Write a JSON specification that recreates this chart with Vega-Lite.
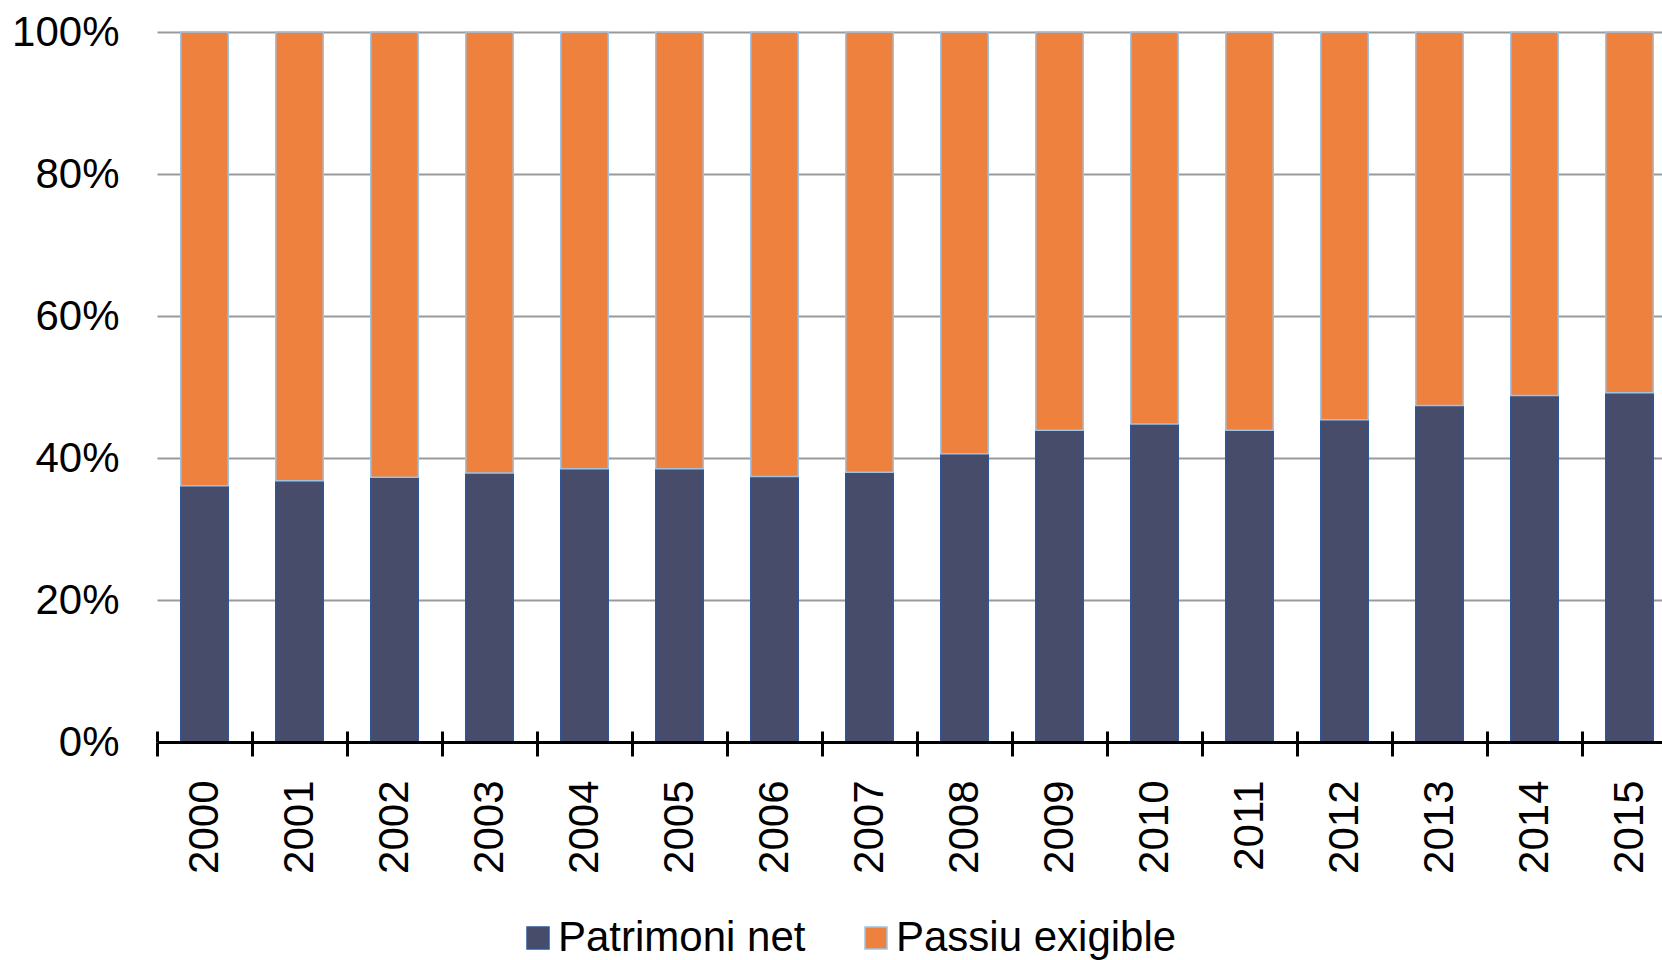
{
  "$schema": "https://vega.github.io/schema/vega-lite/v6.json",
  "autosize": {"type": "none"},
  "padding": {"left": 157, "top": 32, "right": 0, "bottom": 218},
  "width": 1505,
  "height": 710,
  "background": "white",
  "config": {
    "view": {"stroke": null},
    "font": "Liberation Sans"
  },
  "data": {
    "values": [
      {"year": "2000", "pn": 0.361, "pe": 0.639},
      {"year": "2001", "pn": 0.368, "pe": 0.632},
      {"year": "2002", "pn": 0.373, "pe": 0.627},
      {"year": "2003", "pn": 0.379, "pe": 0.621},
      {"year": "2004", "pn": 0.385, "pe": 0.615},
      {"year": "2005", "pn": 0.385, "pe": 0.615},
      {"year": "2006", "pn": 0.374, "pe": 0.626},
      {"year": "2007", "pn": 0.380, "pe": 0.620},
      {"year": "2008", "pn": 0.406, "pe": 0.594},
      {"year": "2009", "pn": 0.439, "pe": 0.561},
      {"year": "2010", "pn": 0.448, "pe": 0.552},
      {"year": "2011", "pn": 0.439, "pe": 0.561},
      {"year": "2012", "pn": 0.454, "pe": 0.546},
      {"year": "2013", "pn": 0.474, "pe": 0.526},
      {"year": "2014", "pn": 0.488, "pe": 0.512},
      {"year": "2015", "pn": 0.492, "pe": 0.508}
    ]
  },
  "resolve": {"axis": {"x": "independent"}},
  "layer": [
    {
      "mark": {"type": "bar", "strokeWidth": 1.5},
      "encoding": {
        "x": {
          "field": "year",
          "type": "ordinal",
          "scale": {"range": [0, 1520], "paddingInner": 0.5, "paddingOuter": 0.25},
          "axis": {
            "title": null,
            "orient": "bottom",
            "bandPosition": -0.5,
            "labelAngle": -90,
            "labelAlign": "right",
            "labelBaseline": "middle",
            "labelFontSize": 42,
            "labelColor": "#000000",
            "labelPadding": 24,
            "tickSize": 14,
            "tickWidth": 3,
            "tickColor": "#000000",
            "domainColor": "#000000",
            "domainWidth": 3,
            "zindex": 2,
            "labelOverlap": false,
            "labelFlush": false
          }
        },
        "y": {
          "field": "pn",
          "type": "quantitative",
          "stack": null,
          "scale": {"domain": [0, 1], "nice": false},
          "axis": {
            "title": null,
            "values": [0, 0.2, 0.4, 0.6, 0.8, 1],
            "format": ".0%",
            "domain": false,
            "ticks": false,
            "labelFontSize": 42,
            "labelColor": "#000000",
            "labelPadding": 38,
            "grid": true,
            "gridColor": "#9a9a9a",
            "gridWidth": 2,
            "zindex": 0
          }
        },
        "color": {
          "datum": "Patrimoni net",
          "type": "nominal",
          "scale": {"domain": ["Patrimoni net", "Passiu exigible"], "range": ["#474c6b", "#ef813f"]},
          "legend": {
            "title": null,
            "orient": "none",
            "legendX": 360,
            "legendY": 885,
            "direction": "horizontal",
            "symbolType": "square",
            "symbolSize": 484,
            "symbolStrokeWidth": 1.5,
            "symbolOpacity": 1,
            "labelFontSize": 42,
            "labelColor": "#000000",
            "labelOffset": -1,
            "columnPadding": 49,
            "padding": 0,
            "labelLimit": 0
          }
        },
        "stroke": {
          "datum": "Patrimoni net",
          "type": "nominal",
          "scale": {"domain": ["Patrimoni net", "Passiu exigible"], "range": ["#2f5597", "#9dc3e6"]},
          "legend": {
            "title": null,
            "orient": "none",
            "legendX": 360,
            "legendY": 885,
            "direction": "horizontal",
            "symbolType": "square",
            "symbolSize": 484,
            "symbolStrokeWidth": 1.5,
            "labelFontSize": 42,
            "labelColor": "#000000",
            "labelOffset": -1,
            "columnPadding": 49,
            "padding": 0,
            "labelLimit": 0
          }
        }
      }
    },
    {
      "mark": {"type": "bar", "strokeWidth": 1.5},
      "encoding": {
        "x": {
          "field": "year",
          "type": "ordinal",
          "axis": {
            "title": null,
            "orient": "bottom",
            "bandPosition": -0.5,
            "labels": false,
            "domain": false,
            "tickSize": 11,
            "tickWidth": 3,
            "tickColor": "#000000",
            "offset": -11,
            "zindex": 2
          }
        },
        "y": {"field": "pn", "type": "quantitative", "stack": null},
        "y2": {"datum": 1},
        "color": {"datum": "Passiu exigible", "type": "nominal"},
        "stroke": {"datum": "Passiu exigible", "type": "nominal"}
      }
    }
  ]
}
